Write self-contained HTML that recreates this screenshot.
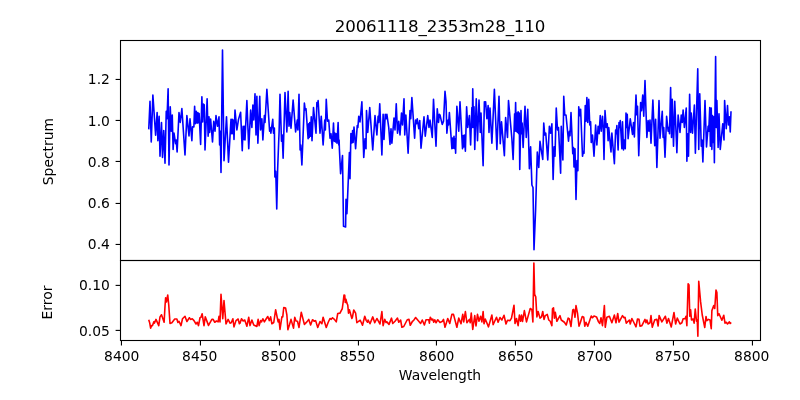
<!DOCTYPE html>
<html lang="en"><head><meta charset="utf-8"><title>20061118_2353m28_110</title>
<style>
html,body{margin:0;padding:0;background:#fff;}
body{width:800px;height:400px;overflow:hidden;}
svg{display:block;will-change:transform;}
text{font-family:"DejaVu Sans","Liberation Sans",sans-serif;fill:#000;}
.t{font-size:13.89px;}
.ttl{font-size:16.67px;letter-spacing:-0.12px;}
</style></head><body>
<svg width="800" height="400" viewBox="0 0 800 400">
<rect width="800" height="400" fill="#fff"/>
<g fill="none" stroke-linejoin="round" stroke-linecap="butt">
<polyline points="148.75,129.38 150.00,101.25 151.25,141.88 152.88,95.00 155.62,135.25 157.12,112.50 157.88,140.62 159.12,116.25 160.00,156.25 161.50,122.50 162.50,157.50 163.75,130.62 165.00,163.12 166.25,111.25 167.00,118.75 168.12,88.75 169.00,165.00 170.25,106.88 171.25,131.25 172.25,115.00 173.12,149.38 174.00,133.12 175.62,143.75 176.25,140.00 177.12,151.88 179.00,112.50 180.25,122.50 181.88,108.50 185.00,155.00 186.88,115.62 189.00,136.00 190.00,118.75 191.88,140.62 192.50,126.88 193.88,126.88 194.62,106.25 195.38,123.75 196.25,111.25 197.12,123.12 197.88,112.50 198.50,122.75 199.12,113.50 200.62,144.38 201.88,96.88 202.62,121.88 203.38,104.00 204.25,104.75 205.00,150.00 207.12,98.75 208.12,136.25 209.00,116.88 209.62,132.50 210.62,119.00 212.50,141.88 213.75,121.25 215.00,131.25 216.00,115.62 217.50,126.25 219.00,116.88 219.62,145.00 220.25,131.25 221.00,172.50 222.50,50.00 224.00,160.62 226.50,116.88 228.50,162.25 231.00,119.38 231.62,133.75 232.25,119.38 232.88,133.75 233.38,120.00 234.00,139.38 235.00,110.00 236.88,130.00 238.50,119.38 240.62,112.25 242.25,150.62 243.12,126.25 243.75,139.38 244.38,126.25 245.00,140.00 246.88,100.62 248.75,148.75 250.62,110.00 251.88,127.50 252.88,105.00 253.75,120.00 255.00,93.75 256.00,135.00 256.88,96.25 257.88,143.12 259.75,96.25 260.62,130.00 261.88,118.75 262.88,140.00 264.38,115.62 265.00,122.50 266.88,89.38 269.62,131.25 270.12,127.50 270.88,133.12 272.75,119.38 273.50,133.12 274.38,128.12 274.88,177.00 275.75,171.25 276.75,209.00 277.62,170.00 278.75,140.00 279.12,131.25 280.00,94.38 281.50,141.25 282.25,135.00 283.12,158.12 285.00,92.50 286.88,131.88 288.12,91.25 289.00,126.25 289.75,112.50 291.00,128.12 293.12,100.00 295.62,131.88 297.25,120.00 297.88,130.00 299.00,94.38 300.12,150.00 300.75,145.00 301.88,165.00 304.38,103.12 305.25,110.00 306.00,108.75 308.12,138.75 308.75,123.75 309.25,137.50 309.75,122.50 310.38,136.25 311.25,116.88 312.00,140.62 313.50,107.50 316.00,133.12 316.88,102.50 317.50,106.25 318.12,100.62 320.00,133.12 321.25,116.25 323.12,145.00 324.75,120.00 325.38,130.00 326.25,99.38 327.50,121.25 328.75,120.00 330.00,138.12 331.00,133.75 332.25,148.12 333.50,123.12 334.25,141.25 334.88,133.12 335.50,141.88 336.25,133.75 337.00,143.12 338.12,122.50 338.75,145.00 339.12,140.00 339.38,148.75 340.60,173.75 342.50,155.60 343.50,226.25 345.60,226.90 346.00,199.40 346.90,213.75 349.40,152.50 350.00,178.75 350.90,133.50 351.80,143.00 352.60,130.50 353.10,142.50 354.00,127.00 355.60,148.75 357.25,125.62 357.88,127.50 358.75,116.25 360.00,121.88 361.88,101.88 363.75,157.50 365.00,138.75 366.00,148.75 366.50,110.62 367.75,132.50 369.75,107.50 372.75,150.00 375.00,115.62 376.88,135.00 378.12,116.25 378.75,122.50 379.75,103.75 381.88,155.00 383.12,114.38 384.00,139.38 385.25,114.38 386.00,118.75 386.88,114.38 388.75,127.50 390.00,144.38 391.00,128.75 391.88,143.12 394.00,118.12 395.00,130.00 396.25,103.75 397.50,133.12 398.75,121.25 400.00,135.00 401.50,113.12 402.50,125.00 404.00,98.75 404.75,135.00 405.88,115.00 408.12,153.12 410.00,110.62 410.75,118.75 411.88,97.50 414.62,138.12 415.62,120.00 416.50,123.75 417.25,118.75 418.75,128.75 419.75,120.62 421.00,148.12 424.00,116.88 425.25,136.25 427.75,115.62 429.00,127.50 430.00,120.00 432.25,137.50 433.50,99.38 436.00,146.25 437.25,108.75 438.50,122.50 439.38,114.38 440.00,115.00 441.00,119.38 442.25,124.38 443.50,121.25 445.00,91.25 446.00,101.25 446.88,133.12 448.12,120.00 448.50,125.00 449.38,112.50 451.88,148.75 452.50,138.12 453.25,148.12 454.00,136.25 454.75,148.75 455.12,138.75 455.62,153.12 456.88,106.25 458.75,131.25 460.00,101.88 462.50,148.75 463.12,135.62 463.75,146.88 464.38,135.00 465.38,151.25 466.62,106.88 467.75,127.50 469.38,115.62 470.62,145.00 471.88,107.50 472.25,127.50 472.75,88.75 473.50,127.50 474.00,106.88 474.75,149.38 476.25,98.75 477.50,140.62 479.00,100.00 480.25,132.50 481.00,113.12 483.12,165.62 484.38,101.88 485.00,106.25 485.62,101.88 486.88,118.75 488.12,105.62 489.00,132.50 490.00,108.12 491.88,143.12 494.38,89.38 496.88,149.38 499.00,96.25 500.25,143.75 501.50,121.88 504.38,155.62 505.62,117.50 507.50,137.50 508.50,100.62 511.88,138.75 513.12,159.38 514.62,113.75 515.00,131.25 515.62,102.50 516.25,131.25 516.88,113.12 517.38,132.50 518.12,111.88 518.75,133.75 519.25,113.12 519.75,169.38 521.00,110.62 521.62,133.75 522.12,123.12 523.12,147.50 525.00,106.25 526.25,137.50 527.75,109.38 529.38,168.75 530.62,146.88 531.90,185.00 533.00,187.50 534.00,249.75 535.60,210.00 537.30,152.00 538.75,167.50 540.00,141.25 541.25,150.00 542.75,159.38 543.75,123.12 544.75,135.00 545.75,133.12 547.75,160.00 549.38,126.25 550.62,133.12 551.88,123.75 553.12,179.38 554.12,146.88 555.00,156.25 556.25,108.12 557.50,130.00 558.50,127.50 560.62,173.12 561.25,126.25 562.88,160.00 563.75,96.25 564.75,115.00 566.00,115.00 568.50,141.25 569.38,131.25 570.00,135.62 571.00,112.50 572.75,153.75 573.50,147.50 574.00,166.88 575.00,148.75 576.00,199.38 577.00,160.62 577.88,170.62 578.75,106.88 579.75,115.62 580.62,109.38 582.50,156.25 583.38,151.25 584.00,153.12 585.25,105.62 586.00,121.25 586.88,97.50 587.75,122.50 588.75,99.38 589.75,125.00 590.62,121.88 591.25,142.50 592.50,135.00 594.00,156.25 595.62,125.00 596.88,145.00 598.12,126.25 599.12,133.75 600.25,115.62 601.25,131.25 602.50,116.25 603.25,127.50 604.00,159.38 605.00,110.62 606.25,127.50 607.25,123.75 608.12,140.62 608.75,127.50 611.00,151.88 611.88,133.12 614.38,163.75 615.62,130.00 616.25,133.75 616.88,125.62 618.12,150.00 619.00,122.50 619.62,127.50 620.25,120.62 621.88,148.75 622.50,121.88 623.50,150.00 624.38,140.00 625.25,148.75 626.00,113.12 626.62,127.50 627.25,114.38 628.12,138.75 630.25,118.75 632.50,134.38 633.50,122.50 634.38,136.88 636.00,95.00 636.88,115.00 637.50,106.25 638.75,155.62 640.62,102.50 641.50,110.62 642.75,95.00 643.75,116.25 645.00,80.62 646.88,137.50 648.12,120.62 649.00,131.25 650.00,120.00 651.00,143.12 652.88,100.00 654.75,145.62 655.62,119.38 656.88,167.50 659.00,100.62 660.00,138.12 662.25,111.25 663.12,137.50 663.75,127.50 665.00,157.25 666.62,116.25 668.12,131.25 668.75,127.50 669.50,133.75 670.62,87.50 671.50,137.50 672.25,99.38 673.50,146.25 674.75,101.25 676.88,152.75 678.12,115.00 680.00,132.50 681.25,115.00 682.25,122.50 683.12,110.00 684.38,127.50 686.25,108.12 686.88,161.25 687.75,133.75 688.50,156.25 689.62,94.38 690.62,132.50 691.25,113.12 692.50,133.12 694.38,105.00 695.38,153.12 697.75,68.75 698.75,149.38 699.75,93.75 701.25,146.25 702.00,140.00 702.88,161.88 705.00,100.62 706.50,146.88 708.12,126.25 708.75,131.25 709.75,107.50 710.38,146.25 711.25,108.12 711.88,149.38 712.50,115.62 713.12,142.50 713.75,116.88 714.38,162.75 715.62,56.50 716.25,127.50 716.88,100.62 718.12,147.50 719.00,113.75 720.25,149.38 722.75,123.75 724.00,140.00 724.62,100.62 726.25,128.75 727.50,105.62 728.50,125.00 729.38,116.88 730.25,131.88 731.00,111.25" stroke="#0000ff" stroke-width="1.6"/>
<polyline points="148.75,319.75 149.75,323.12 150.62,328.12 151.50,325.62 152.50,325.62 153.75,321.88 154.38,323.12 156.00,319.38 158.75,325.62 160.00,316.88 161.50,314.75 164.12,322.25 165.00,306.25 165.62,297.75 166.50,301.88 167.75,295.00 168.75,305.00 170.00,323.50 171.88,322.75 174.75,319.00 176.88,319.00 177.88,322.50 179.00,321.25 181.00,325.62 182.50,318.75 185.00,316.25 186.88,321.50 189.38,317.75 190.62,319.38 192.25,318.75 194.00,320.62 196.00,324.00 197.25,322.25 198.50,325.62 200.00,317.75 201.00,317.25 202.12,313.75 204.00,325.62 205.25,316.88 208.50,325.38 211.88,319.38 213.12,319.38 214.75,322.25 216.50,321.00 218.12,321.88 219.00,316.25 220.00,321.88 221.00,294.38 222.75,318.75 224.00,300.62 226.00,324.00 228.12,319.38 230.00,323.12 231.25,322.75 232.88,318.75 234.00,326.88 236.00,320.62 238.12,319.00 239.38,323.75 240.00,323.12 241.50,318.75 243.12,321.00 244.75,320.00 246.88,326.25 248.75,317.25 250.00,325.62 251.88,320.00 253.75,325.00 256.88,326.50 258.12,319.38 259.12,325.62 260.62,320.62 261.50,321.88 262.88,318.75 264.38,321.88 266.25,318.75 267.75,316.50 269.38,320.62 270.62,316.88 271.88,323.75 273.75,322.50 275.62,309.75 278.12,321.88 279.00,319.38 280.00,329.38 281.88,316.88 282.75,316.88 283.75,307.50 285.62,308.12 286.88,315.00 287.88,329.75 289.38,325.00 291.00,319.38 293.50,328.12 294.75,317.25 296.00,321.00 297.50,321.25 299.00,327.50 301.25,312.25 304.38,324.38 306.88,321.88 308.75,319.38 310.62,325.00 312.50,319.75 314.38,321.25 315.62,320.62 317.75,327.50 320.00,321.50 321.88,323.75 323.12,317.25 326.25,327.50 328.12,322.50 330.00,318.50 331.25,319.38 332.50,317.75 334.38,319.38 336.25,321.88 337.75,313.50 340.00,313.12 341.25,310.62 342.25,308.75 343.12,302.50 344.00,295.00 344.75,295.25 345.25,302.50 346.00,299.38 346.88,303.12 347.75,305.00 348.50,313.12 349.38,309.75 351.88,318.50 352.50,316.88 353.75,310.00 355.62,313.12 356.88,322.75 358.75,321.25 360.25,320.25 362.50,325.25 364.75,316.25 366.25,320.62 367.50,322.25 368.12,320.00 370.00,323.75 372.75,316.88 374.75,322.75 376.88,318.50 378.12,320.62 380.00,324.00 381.88,311.50 383.12,325.62 384.75,319.38 386.00,322.50 386.88,321.88 389.00,324.38 391.50,318.12 392.75,323.50 395.00,321.25 397.50,318.12 398.75,322.25 400.62,320.00 401.88,327.25 403.75,326.50 407.25,319.75 409.00,319.38 410.25,325.25 412.50,321.25 413.50,320.62 415.62,317.50 420.62,323.50 422.25,320.00 424.38,325.00 426.00,319.75 428.75,319.75 429.38,323.12 430.25,317.25 431.88,320.00 432.75,319.00 433.75,322.25 434.75,319.75 436.00,322.75 437.75,319.75 440.00,322.50 442.50,321.25 443.50,319.38 445.00,327.25 447.75,318.50 449.75,323.50 451.88,314.38 453.50,314.38 456.88,327.25 458.75,318.12 461.00,323.75 462.75,314.38 463.75,321.88 465.38,311.50 466.88,322.75 469.38,319.38 470.25,322.75 471.25,313.12 472.75,329.38 474.75,315.62 476.00,326.00 477.50,314.38 479.00,321.25 480.62,316.25 481.88,321.88 483.12,311.50 484.00,323.75 485.25,319.00 488.50,326.88 491.88,315.00 493.12,324.75 496.50,317.25 498.12,322.25 500.00,317.50 501.88,320.00 504.00,315.25 506.00,324.00 507.50,320.25 510.00,320.62 511.50,318.12 514.00,305.25 515.00,323.50 516.50,318.50 518.12,325.62 519.38,315.00 520.62,321.25 521.50,315.00 522.50,321.50 524.38,310.62 526.50,321.88 530.25,308.50 531.88,309.75 532.88,321.88 533.88,263.12 534.62,294.38 535.75,296.88 536.88,316.88 538.12,311.50 540.00,318.12 541.50,316.88 542.75,311.50 544.00,319.38 545.25,315.62 547.25,314.38 548.75,320.00 550.25,321.25 551.88,325.62 552.50,308.75 553.50,307.75 554.38,318.12 555.25,312.25 556.88,321.25 560.00,315.62 561.25,320.00 564.38,322.25 566.25,325.00 568.12,318.12 569.38,319.00 571.00,326.50 572.75,310.00 573.75,309.38 575.00,317.25 576.00,305.62 577.50,313.12 579.00,326.25 580.25,322.75 582.25,316.50 583.75,317.25 584.75,326.25 586.00,322.25 587.75,326.25 589.38,321.50 591.25,316.00 592.50,317.75 594.00,316.00 596.50,316.88 598.50,321.88 599.75,323.50 601.00,317.75 602.50,325.62 604.38,305.62 605.25,327.25 606.88,317.25 609.38,316.25 611.88,322.75 614.38,315.00 616.00,322.75 617.75,313.50 619.00,322.25 622.50,315.62 624.00,317.75 625.00,317.25 626.25,323.12 629.38,320.00 630.25,324.00 631.88,318.50 633.75,322.25 636.00,326.88 637.50,319.00 639.00,319.38 640.00,326.25 641.88,325.62 645.00,319.38 646.00,322.75 646.88,320.00 648.12,324.00 650.00,322.75 651.00,315.62 652.25,327.25 654.75,319.75 656.88,319.38 658.12,326.00 659.12,315.62 661.88,321.88 665.38,316.25 666.88,323.12 668.50,318.50 671.25,326.88 674.00,312.50 675.62,324.00 677.25,318.12 680.00,324.00 681.88,322.75 683.12,318.75 685.00,318.75 686.00,316.25 686.88,325.62 688.12,283.75 689.00,285.00 689.75,316.25 690.62,309.75 691.50,320.00 693.12,319.00 694.12,323.12 695.25,309.00 696.50,321.25 697.25,320.00 697.88,336.25 698.75,281.25 700.62,301.88 702.25,315.00 704.75,327.50 706.00,316.50 706.88,320.62 708.50,319.38 710.00,320.00 711.25,328.75 711.88,310.62 713.75,305.62 714.75,308.50 716.00,290.00 716.88,292.50 717.75,315.62 719.00,313.75 721.88,320.25 723.75,315.25 725.00,323.12 726.25,322.25 727.50,324.00 729.38,321.88 730.25,323.50 731.25,322.50" stroke="#ff0000" stroke-width="1.6"/>
</g>
<g stroke="#000" stroke-width="1.1" fill="none" shape-rendering="auto">
<rect x="120.5" y="40.5" width="640.0" height="220.0"/>
<rect x="120.5" y="260.5" width="640.0" height="80.0"/>
<line x1="121.45" y1="340.5" x2="121.45" y2="345.4"/>
<line x1="200.45" y1="340.5" x2="200.45" y2="345.4"/>
<line x1="279.45" y1="340.5" x2="279.45" y2="345.4"/>
<line x1="358.45" y1="340.5" x2="358.45" y2="345.4"/>
<line x1="436.45" y1="340.5" x2="436.45" y2="345.4"/>
<line x1="515.45" y1="340.5" x2="515.45" y2="345.4"/>
<line x1="594.45" y1="340.5" x2="594.45" y2="345.4"/>
<line x1="673.45" y1="340.5" x2="673.45" y2="345.4"/>
<line x1="752.45" y1="340.5" x2="752.45" y2="345.4"/>
<line x1="115.6" y1="79.45" x2="120.5" y2="79.45"/>
<line x1="115.6" y1="120.45" x2="120.5" y2="120.45"/>
<line x1="115.6" y1="161.45" x2="120.5" y2="161.45"/>
<line x1="115.6" y1="203.45" x2="120.5" y2="203.45"/>
<line x1="115.6" y1="244.45" x2="120.5" y2="244.45"/>
<line x1="115.6" y1="285.40" x2="120.5" y2="285.40"/>
<line x1="115.6" y1="330.40" x2="120.5" y2="330.40"/>
</g>
<text class="t" x="121.75" y="361.2" text-anchor="middle">8400</text>
<text class="t" x="199.75" y="361.2" text-anchor="middle">8450</text>
<text class="t" x="278.75" y="361.2" text-anchor="middle">8500</text>
<text class="t" x="357.35" y="361.2" text-anchor="middle">8550</text>
<text class="t" x="436.75" y="361.2" text-anchor="middle">8600</text>
<text class="t" x="515.75" y="361.2" text-anchor="middle">8650</text>
<text class="t" x="594.75" y="361.2" text-anchor="middle">8700</text>
<text class="t" x="672.75" y="361.2" text-anchor="middle">8750</text>
<text class="t" x="751.75" y="361.2" text-anchor="middle">8800</text>
<text class="t" x="109.9" y="84.00" text-anchor="end">1.2</text>
<text class="t" x="109.9" y="125.85" text-anchor="end">1.0</text>
<text class="t" x="109.9" y="166.85" text-anchor="end">0.8</text>
<text class="t" x="109.9" y="208.00" text-anchor="end">0.6</text>
<text class="t" x="109.9" y="249.00" text-anchor="end">0.4</text>
<text class="t" x="109.9" y="290.00" text-anchor="end">0.10</text>
<text class="t" x="109.9" y="335.80" text-anchor="end">0.05</text>
<text class="ttl" x="440" y="32.2" text-anchor="middle">20061118_2353m28_110</text>
<text class="t" x="440" y="380" text-anchor="middle">Wavelength</text>
<text class="t" transform="translate(52.5,151.6) rotate(-90)" text-anchor="middle">Spectrum</text>
<text class="t" transform="translate(52.2,302.5) rotate(-90)" text-anchor="middle">Error</text>
</svg></body></html>
